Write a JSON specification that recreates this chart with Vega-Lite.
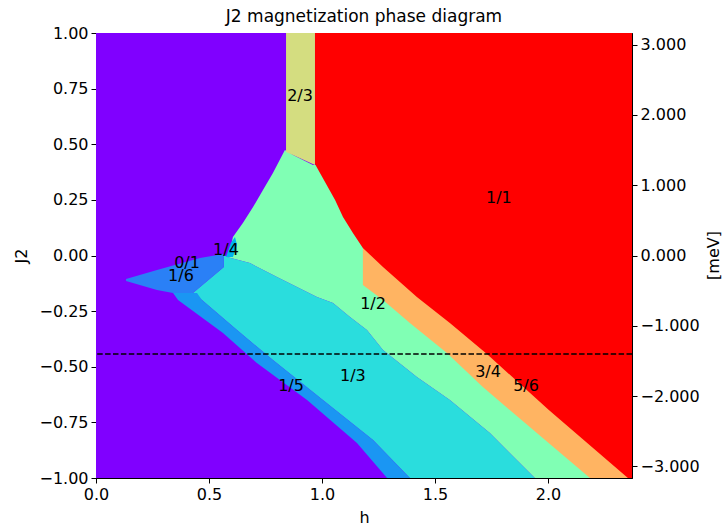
{
  "$schema": "https://vega.github.io/schema/vega-lite/v6.json",
  "width": 536,
  "height": 445,
  "autosize": {"type": "none"},
  "padding": {"left": 96, "top": 33, "right": 96, "bottom": 47},
  "background": "white",
  "title": {"text": "J2 magnetization phase diagram", "font": "DejaVu Sans", "fontSize": 17, "fontWeight": "normal", "color": "black", "offset": -1},
  "config": {
    "view": {"stroke": "black", "strokeWidth": 1},
    "axis": {"labelFont": "DejaVu Sans", "titleFont": "DejaVu Sans", "labelFontSize": 16, "titleFontSize": 16, "titleFontWeight": "normal", "labelColor": "black", "titleColor": "black", "domainColor": "black", "tickColor": "black", "tickSize": 5, "tickWidth": 1, "domainWidth": 1, "grid": false, "labelPadding": 3, "labelFlush": false}
  },
  "datasets": {
    "poly": [
      {"phase": "0/1", "i": 0, "h": 0, "J2": 1}, {"phase": "0/1", "i": 1, "h": 2.372, "J2": 1}, {"phase": "0/1", "i": 2, "h": 2.372, "J2": -1}, {"phase": "0/1", "i": 3, "h": 0, "J2": -1},
      {"phase": "1/2", "i": 0, "h": 0.836, "J2": 0.474}, {"phase": "1/2", "i": 1, "h": 0.872, "J2": 0.452}, {"phase": "1/2", "i": 2, "h": 0.96, "J2": 0.407}, {"phase": "1/2", "i": 3, "h": 2.372, "J2": 0.407}, {"phase": "1/2", "i": 4, "h": 2.372, "J2": -1}, {"phase": "1/2", "i": 5, "h": 1.942, "J2": -1}, {"phase": "1/2", "i": 6, "h": 1.743, "J2": -0.798}, {"phase": "1/2", "i": 7, "h": 1.566, "J2": -0.649}, {"phase": "1/2", "i": 8, "h": 1.42, "J2": -0.546}, {"phase": "1/2", "i": 9, "h": 1.27, "J2": -0.425}, {"phase": "1/2", "i": 10, "h": 1.199, "J2": -0.335}, {"phase": "1/2", "i": 11, "h": 1.124, "J2": -0.276}, {"phase": "1/2", "i": 12, "h": 1.049, "J2": -0.213}, {"phase": "1/2", "i": 13, "h": 0.978, "J2": -0.187}, {"phase": "1/2", "i": 14, "h": 0.801, "J2": -0.097}, {"phase": "1/2", "i": 15, "h": 0.681, "J2": -0.034}, {"phase": "1/2", "i": 16, "h": 0.58, "J2": -0.007}, {"phase": "1/2", "i": 17, "h": 0.593, "J2": 0.025}, {"phase": "1/2", "i": 18, "h": 0.606, "J2": 0.083}, {"phase": "1/2", "i": 19, "h": 0.65, "J2": 0.146}, {"phase": "1/2", "i": 20, "h": 0.695, "J2": 0.218}, {"phase": "1/2", "i": 21, "h": 0.739, "J2": 0.294}, {"phase": "1/2", "i": 22, "h": 0.783, "J2": 0.371},
      {"phase": "3/4", "i": 0, "h": 1.181, "J2": 0.034}, {"phase": "3/4", "i": 1, "h": 2.372, "J2": 0.034}, {"phase": "3/4", "i": 2, "h": 2.372, "J2": -1}, {"phase": "3/4", "i": 3, "h": 2.186, "J2": -1}, {"phase": "3/4", "i": 4, "h": 1.951, "J2": -0.798}, {"phase": "3/4", "i": 5, "h": 1.712, "J2": -0.591}, {"phase": "3/4", "i": 6, "h": 1.553, "J2": -0.438}, {"phase": "3/4", "i": 7, "h": 1.389, "J2": -0.303}, {"phase": "3/4", "i": 8, "h": 1.27, "J2": -0.2}, {"phase": "3/4", "i": 9, "h": 1.181, "J2": -0.133},
      {"phase": "1/1", "i": 0, "h": 0.969, "J2": 1}, {"phase": "1/1", "i": 1, "h": 2.372, "J2": 1}, {"phase": "1/1", "i": 2, "h": 2.372, "J2": -1}, {"phase": "1/1", "i": 3, "h": 2.354, "J2": -1}, {"phase": "1/1", "i": 4, "h": 2.004, "J2": -0.694}, {"phase": "1/1", "i": 5, "h": 1.73, "J2": -0.443}, {"phase": "1/1", "i": 6, "h": 1.566, "J2": -0.303}, {"phase": "1/1", "i": 7, "h": 1.42, "J2": -0.187}, {"phase": "1/1", "i": 8, "h": 1.27, "J2": -0.052}, {"phase": "1/1", "i": 9, "h": 1.181, "J2": 0.034}, {"phase": "1/1", "i": 10, "h": 1.137, "J2": 0.101}, {"phase": "1/1", "i": 11, "h": 1.093, "J2": 0.173}, {"phase": "1/1", "i": 12, "h": 1.058, "J2": 0.249}, {"phase": "1/1", "i": 13, "h": 0.969, "J2": 0.411},
      {"phase": "2/3", "i": 0, "h": 0.841, "J2": 1}, {"phase": "2/3", "i": 1, "h": 0.969, "J2": 1}, {"phase": "2/3", "i": 2, "h": 0.969, "J2": 0.407}, {"phase": "2/3", "i": 3, "h": 0.872, "J2": 0.452}, {"phase": "2/3", "i": 4, "h": 0.841, "J2": 0.465},
      {"phase": "1/3", "i": 0, "h": 0.58, "J2": -0.007}, {"phase": "1/3", "i": 1, "h": 0.681, "J2": -0.034}, {"phase": "1/3", "i": 2, "h": 0.801, "J2": -0.097}, {"phase": "1/3", "i": 3, "h": 0.978, "J2": -0.187}, {"phase": "1/3", "i": 4, "h": 1.049, "J2": -0.213}, {"phase": "1/3", "i": 5, "h": 1.124, "J2": -0.276}, {"phase": "1/3", "i": 6, "h": 1.199, "J2": -0.335}, {"phase": "1/3", "i": 7, "h": 1.27, "J2": -0.425}, {"phase": "1/3", "i": 8, "h": 1.42, "J2": -0.546}, {"phase": "1/3", "i": 9, "h": 1.566, "J2": -0.649}, {"phase": "1/3", "i": 10, "h": 1.743, "J2": -0.798}, {"phase": "1/3", "i": 11, "h": 1.942, "J2": -1}, {"phase": "1/3", "i": 12, "h": 1.389, "J2": -1}, {"phase": "1/3", "i": 13, "h": 1.226, "J2": -0.829}, {"phase": "1/3", "i": 14, "h": 1.004, "J2": -0.649}, {"phase": "1/3", "i": 15, "h": 0.783, "J2": -0.47}, {"phase": "1/3", "i": 16, "h": 0.624, "J2": -0.335}, {"phase": "1/3", "i": 17, "h": 0.469, "J2": -0.2}, {"phase": "1/3", "i": 18, "h": 0.429, "J2": -0.169}, {"phase": "1/3", "i": 19, "h": 0.566, "J2": -0.052}, {"phase": "1/3", "i": 20, "h": 0.566, "J2": 0.002},
      {"phase": "1/5", "i": 0, "h": 0.341, "J2": -0.169}, {"phase": "1/5", "i": 1, "h": 0.447, "J2": -0.169}, {"phase": "1/5", "i": 2, "h": 0.469, "J2": -0.2}, {"phase": "1/5", "i": 3, "h": 0.624, "J2": -0.335}, {"phase": "1/5", "i": 4, "h": 0.783, "J2": -0.47}, {"phase": "1/5", "i": 5, "h": 1.004, "J2": -0.649}, {"phase": "1/5", "i": 6, "h": 1.226, "J2": -0.829}, {"phase": "1/5", "i": 7, "h": 1.389, "J2": -1}, {"phase": "1/5", "i": 8, "h": 1.288, "J2": -1}, {"phase": "1/5", "i": 9, "h": 1.155, "J2": -0.843}, {"phase": "1/5", "i": 10, "h": 0.934, "J2": -0.649}, {"phase": "1/5", "i": 11, "h": 0.712, "J2": -0.483}, {"phase": "1/5", "i": 12, "h": 0.562, "J2": -0.348}, {"phase": "1/5", "i": 13, "h": 0.363, "J2": -0.2},
      {"phase": "1/6", "i": 0, "h": 0.133, "J2": -0.106}, {"phase": "1/6", "i": 1, "h": 0.27, "J2": -0.065}, {"phase": "1/6", "i": 2, "h": 0.46, "J2": -0.011}, {"phase": "1/6", "i": 3, "h": 0.566, "J2": 0.007}, {"phase": "1/6", "i": 4, "h": 0.566, "J2": -0.052}, {"phase": "1/6", "i": 5, "h": 0.429, "J2": -0.169}, {"phase": "1/6", "i": 6, "h": 0.341, "J2": -0.169}, {"phase": "1/6", "i": 7, "h": 0.27, "J2": -0.155}, {"phase": "1/6", "i": 8, "h": 0.133, "J2": -0.115},
      {"phase": "1/4", "i": 0, "h": 0.575, "J2": -0.007}, {"phase": "1/4", "i": 1, "h": 0.597, "J2": 0.056}, {"phase": "1/4", "i": 2, "h": 0.615, "J2": 0.083}, {"phase": "1/4", "i": 3, "h": 0.624, "J2": 0.047}, {"phase": "1/4", "i": 4, "h": 0.606, "J2": -0.007}
    ],
    "labels": [
      {"label": "2/3", "h": 0.903, "J2": 0.717},
      {"label": "1/1", "h": 1.783, "J2": 0.258},
      {"label": "0/1", "h": 0.403, "J2": -0.034},
      {"label": "1/4", "h": 0.575, "J2": 0.025},
      {"label": "1/6", "h": 0.376, "J2": -0.092},
      {"label": "1/2", "h": 1.226, "J2": -0.218},
      {"label": "1/3", "h": 1.137, "J2": -0.542},
      {"label": "1/5", "h": 0.863, "J2": -0.587},
      {"label": "3/4", "h": 1.735, "J2": -0.524},
      {"label": "5/6", "h": 1.903, "J2": -0.587}
    ]
  },
  "layer": [
    {
      "layer": [
        {
          "data": {"name": "poly"},
          "encoding": {
            "x": {"field": "h", "type": "quantitative", "scale": {"domain": [0, 2.372], "nice": false, "zero": false}, "axis": {"values": [0, 0.5, 1, 1.5, 2], "format": ".1f", "title": "h", "titlePadding": 7}},
            "y": {"field": "J2", "type": "quantitative", "scale": {"domain": [-1, 1], "nice": false, "zero": false}, "axis": {"values": [-1, -0.75, -0.5, -0.25, 0, 0.25, 0.5, 0.75, 1], "format": ".2f", "title": "J2", "titlePadding": 9, "labelExpr": "replace(datum.label, '-', '\u2212')"}},
            "color": {"field": "phase", "type": "nominal", "legend": null, "scale": {"domain": ["0/1", "1/6", "1/5", "1/4", "1/3", "1/2", "2/3", "3/4", "1/1"], "range": ["#8000ff", "#2a80f6", "#1a96f3", "#00b4ec", "#2adddd", "#80ffb4", "#d4dd80", "#ffb462", "#ff0000"]}},
            "order": {"field": "i", "type": "quantitative"}
          },
          "layer": [
            {"transform": [{"filter": "datum.phase === '0/1'"}], "mark": {"type": "line", "filled": true}},
            {"transform": [{"filter": "datum.phase === '1/2'"}], "mark": {"type": "line", "filled": true}},
            {"transform": [{"filter": "datum.phase === '3/4'"}], "mark": {"type": "line", "filled": true}},
            {"transform": [{"filter": "datum.phase === '1/1'"}], "mark": {"type": "line", "filled": true}},
            {"transform": [{"filter": "datum.phase === '2/3'"}], "mark": {"type": "line", "filled": true}},
            {"transform": [{"filter": "datum.phase === '1/3'"}], "mark": {"type": "line", "filled": true}},
            {"transform": [{"filter": "datum.phase === '1/5'"}], "mark": {"type": "line", "filled": true}},
            {"transform": [{"filter": "datum.phase === '1/6'"}], "mark": {"type": "line", "filled": true}},
            {"transform": [{"filter": "datum.phase === '1/4'"}], "mark": {"type": "line", "filled": true}}
          ]
        },
        {
          "data": {"name": "labels"},
          "mark": {"type": "text", "font": "DejaVu Sans", "fontSize": 16, "color": "black"},
          "encoding": {
            "x": {"field": "h", "type": "quantitative"},
            "y": {"field": "J2", "type": "quantitative"},
            "text": {"field": "label"}
          }
        },
        {
          "data": {"values": [{"J2": -0.443}]},
          "mark": {"type": "rule", "color": "black", "strokeWidth": 1.5, "strokeDash": [5.5, 2.4]},
          "encoding": {"y": {"field": "J2", "type": "quantitative"}}
        }
      ]
    },
    {
      "data": {"values": [{"meV": -3.164}, {"meV": 3.164}]},
      "mark": {"type": "point", "opacity": 0},
      "encoding": {
        "y": {"field": "meV", "type": "quantitative", "scale": {"domain": [-3.164, 3.164], "nice": false, "zero": false}, "axis": {"orient": "right", "values": [-3, -2, -1, 0, 1, 2, 3], "format": ".3f", "title": "[meV]", "titleAngle": -90, "titleX": 81, "titleY": 222, "titleAlign": "center", "titleBaseline": "middle", "labelExpr": "replace(datum.label, '-', '\u2212')"}}
      }
    }
  ],
  "resolve": {"scale": {"y": "independent"}}
}
